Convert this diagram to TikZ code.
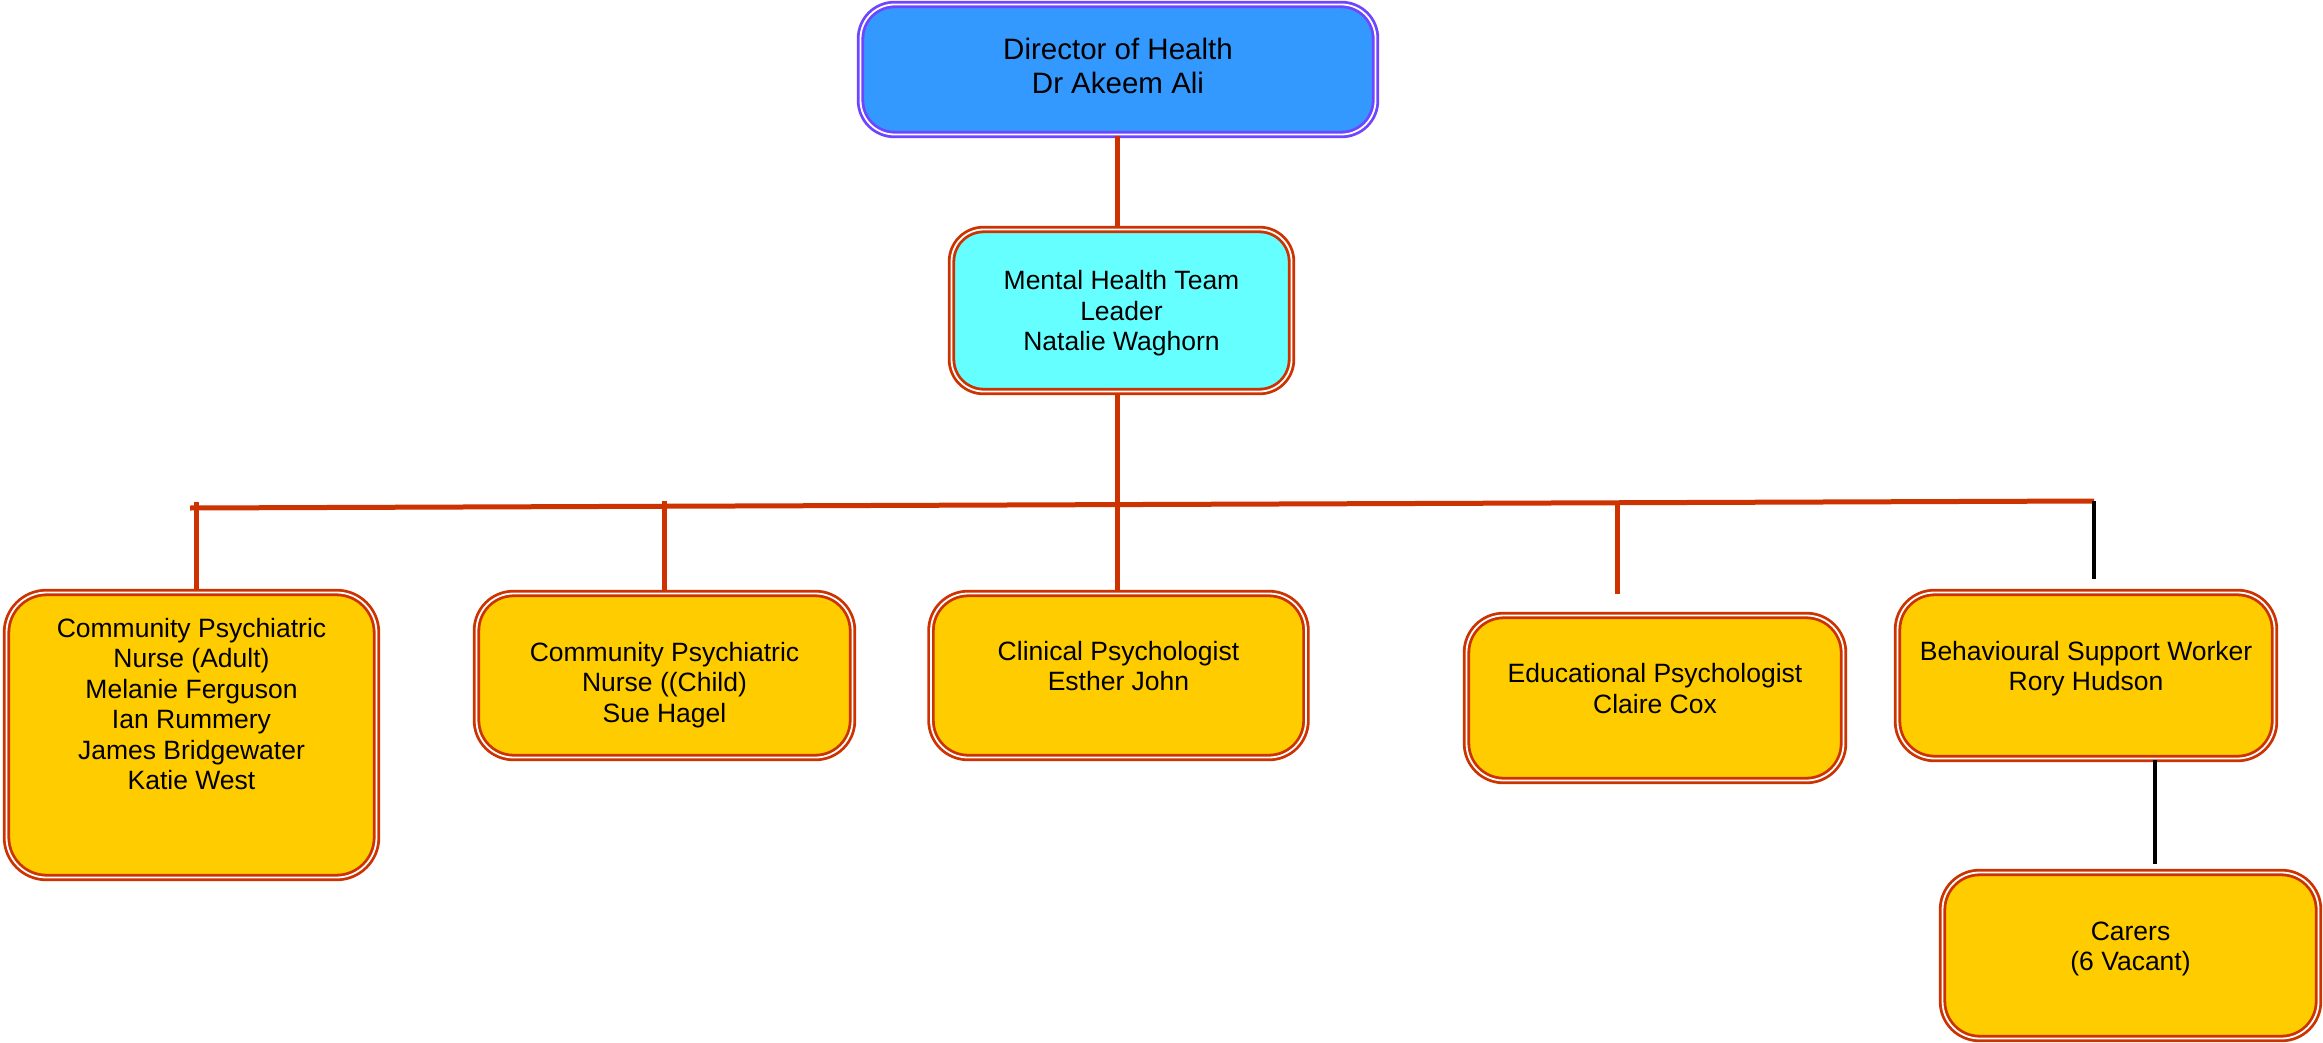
\documentclass[tikz,border=0pt]{standalone}
\usepackage{fontspec}
\setmainfont{Liberation Sans}
\definecolor{linkred}{RGB}{204,51,0}
\definecolor{headblue}{RGB}{51,153,255}
\definecolor{headedge}{RGB}{110,70,255}
\definecolor{leadcyan}{RGB}{102,255,255}
\definecolor{staffyellow}{RGB}{255,204,0}
\tikzset{
    post/.style={rectangle, align=center, inner sep=0pt, line width=2.8pt, double=white, double distance=1.8pt,
        font=\fontsize{26.5}{30.5}\selectfont},
    staff/.style={post, rounded corners=37pt, fill=staffyellow, draw=linkred, minimum width=376pt, minimum height=164pt,
        text depth=19pt},
    link/.style={draw=linkred, line width=5pt},
    blacklink/.style={draw=black, line width=4pt}
}
\begin{document}
\begin{tikzpicture}[x=1pt, y=-1pt]
    \useasboundingbox (0,0) rectangle (2323,1043);
    \node[post, rounded corners=34pt, fill=headblue, draw=headedge, minimum width=515pt, minimum height=130pt,
        font=\fontsize{29.5}{34}\selectfont, text depth=8pt] (director) at (1118,69.5) {Director of Health\\Dr Akeem Ali};
    \node[post, rounded corners=32pt, fill=leadcyan, draw=linkred, minimum width=340pt, minimum height=162pt,
        text height=86pt] (lead) at (1121.5,310.5) {Mental Health Team\\Leader\\Natalie Waghorn};
    \node[staff, minimum width=370pt, minimum height=285pt, rounded corners=40pt, text depth=62pt] (adult) at (191.5,735)
        {Community Psychiatric\\Nurse (Adult)\\Melanie Ferguson\\Ian Rummery\\James Bridgewater\\Katie West};
    \node[staff, text depth=6pt, text height=99pt] (child) at (664.5,675.5) {Community Psychiatric\\Nurse ((Child)\\Sue Hagel};
    \node[staff, minimum width=375pt] (clinical) at (1118.5,675.5) {Clinical Psychologist\\Esther John};
    \node[staff, minimum width=377pt, minimum height=165pt] (edu) at (1655,698) {Educational Psychologist\\Claire Cox};
    \node[staff, minimum width=377pt, minimum height=166pt] (behav) at (2086,675.5) {Behavioural Support Worker\\Rory Hudson};
    \node[staff, minimum height=166pt] (carers) at (2130.5,955.5) {Carers\\(6 Vacant)};
    \coordinate (busL) at (190,508);
    \coordinate (busR) at (2094,501);
    \coordinate (tickA) at (196,502);
    \coordinate (tickC) at (664,501);
    \coordinate (tickE) at (1617,503);
    \coordinate (spine) at (1117,0);
    \draw[link] (spine |- director.south) -- (spine |- lead.north);
    \draw[link] (spine |- lead.south) -- (spine |- clinical.north);
    \draw[link] (busL) -- (busR);
    \draw[link] (tickA) -- (tickA |- adult.north);
    \draw[link] (tickC) -- (tickC |- child.north);
    \draw[link, shorten >=20pt] (tickE) -- (tickE |- edu.north);
    \draw[blacklink, shorten >=12pt] (busR) -- (busR |- behav.north);
    \draw[blacklink] ([xshift=69pt]behav.south) -- ([xshift=69pt, yshift=7pt]behav.south |- carers.north);
\end{tikzpicture}
\end{document}
